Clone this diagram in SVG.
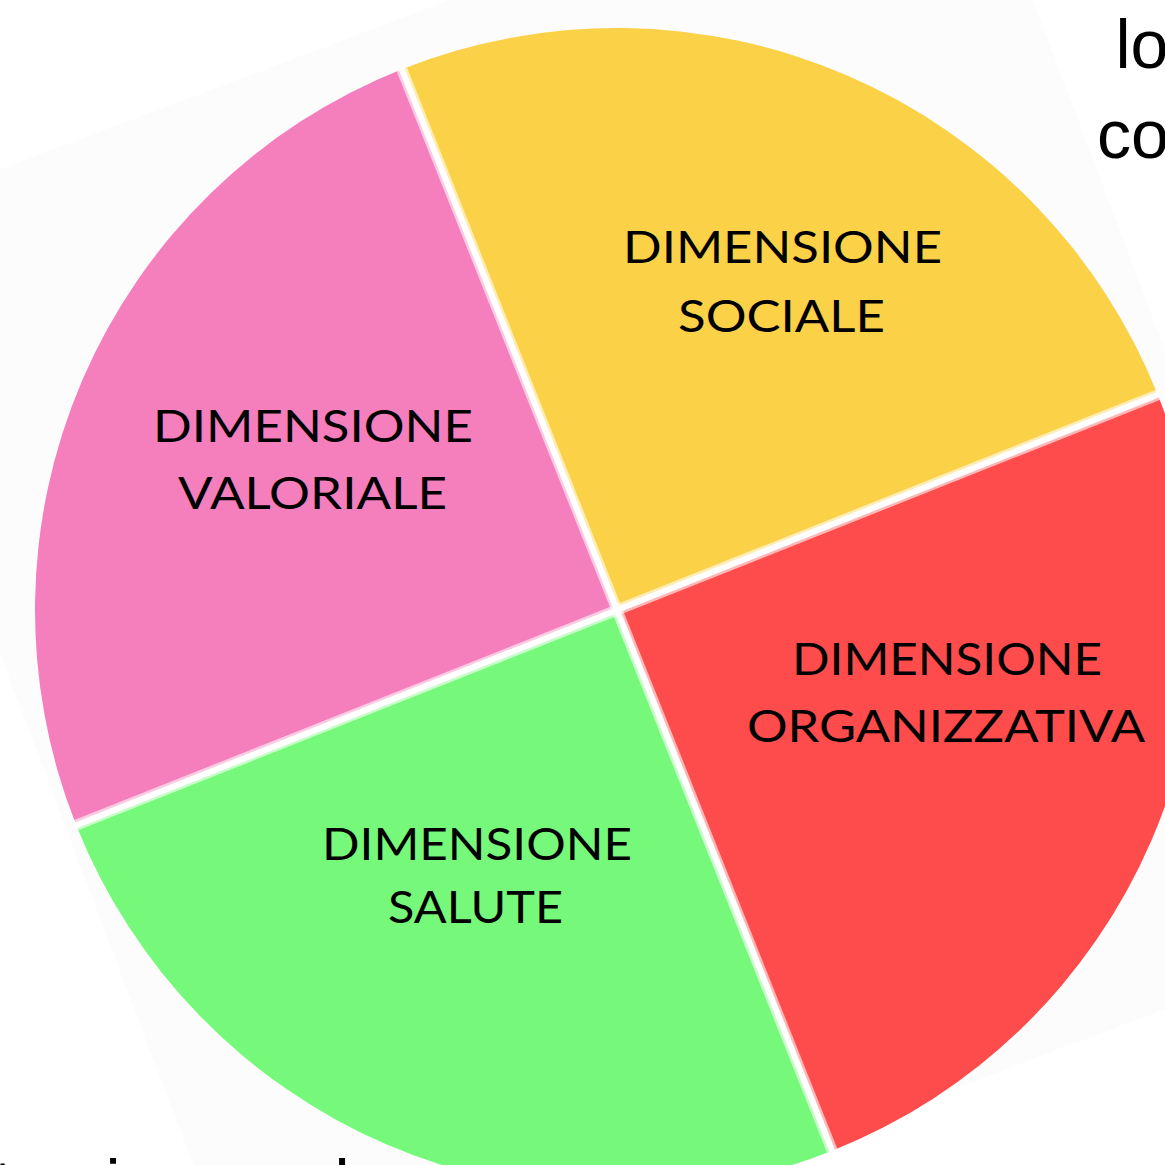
<svg xmlns="http://www.w3.org/2000/svg" width="1165" height="1165" viewBox="0 0 1165 1165">
  <style>
    .lbl { font-family: Lato, "Open Sans", "DejaVu Sans", sans-serif; font-size: 44px; fill: #000; }
    .body { font-family: "Liberation Sans", Arial, sans-serif; font-size: 68px; fill: #000; }
    .sep-soft { stroke: #ffffff; stroke-opacity: 0.6; stroke-width: 11; fill: none; }
    .sep { stroke: #ffffff; stroke-width: 6; fill: none; }
  </style>
  <rect x="0" y="0" width="1165" height="1165" fill="#ffffff"/>
  <polygon id="page" points="-160,230 960,-193 1383,927 263,1350" fill="#fcfcfc"/>

  <g id="pie" transform="translate(617,610) rotate(-21.7)">
    <g id="wedge-valoriale"><path d="M0,0 L-582,0 A582,582 0 0 1 0,-582 Z" fill="#f57ebc"/></g>
    <g id="wedge-sociale"><path d="M0,0 L0,-582 A582,582 0 0 1 582,0 Z" fill="#fbd148"/></g>
    <g id="wedge-organizzativa"><path d="M0,0 L582,0 A582,582 0 0 1 0,582 Z" fill="#fe4b4b"/></g>
    <g id="wedge-salute"><path d="M0,0 L0,582 A582,582 0 0 1 -582,0 Z" fill="#76f97a"/></g>
    <g id="separators">
      <line class="sep-soft" x1="-584" y1="0" x2="584" y2="0"/>
      <line class="sep-soft" x1="0" y1="-584" x2="0" y2="584"/>
      <line class="sep" x1="-584" y1="0" x2="584" y2="0"/>
      <line class="sep" x1="0" y1="-584" x2="0" y2="584"/>
    </g>
  </g>

  <g id="label-sociale">
    <text class="lbl" x="623" y="263" textLength="319" lengthAdjust="spacingAndGlyphs">DIMENSIONE</text>
    <text class="lbl" x="678" y="332" textLength="207" lengthAdjust="spacingAndGlyphs">SOCIALE</text>
  </g>
  <g id="label-valoriale">
    <text class="lbl" x="153" y="442" textLength="320" lengthAdjust="spacingAndGlyphs">DIMENSIONE</text>
    <text class="lbl" x="178" y="509" textLength="269" lengthAdjust="spacingAndGlyphs">VALORIALE</text>
  </g>
  <g id="label-organizzativa">
    <text class="lbl" x="792" y="675" textLength="310" lengthAdjust="spacingAndGlyphs">DIMENSIONE</text>
    <text class="lbl" x="747" y="742" textLength="398" lengthAdjust="spacingAndGlyphs">ORGANIZZATIVA</text>
  </g>
  <g id="label-salute">
    <text class="lbl" x="322" y="860" textLength="310" lengthAdjust="spacingAndGlyphs">DIMENSIONE</text>
    <text class="lbl" x="388" y="923" textLength="175" lengthAdjust="spacingAndGlyphs">SALUTE</text>
  </g>

  <g id="body-text">
    <text class="body" x="1115.5" y="68">lo</text>
    <text class="body" x="1097" y="158">co</text>
    <text class="body" y="1208"><tspan x="-6.5">tra</tspan><tspan x="105.5">i</tspan><tspan x="140">come</tspan><tspan x="334.5">la</tspan></text>
  </g>
</svg>
